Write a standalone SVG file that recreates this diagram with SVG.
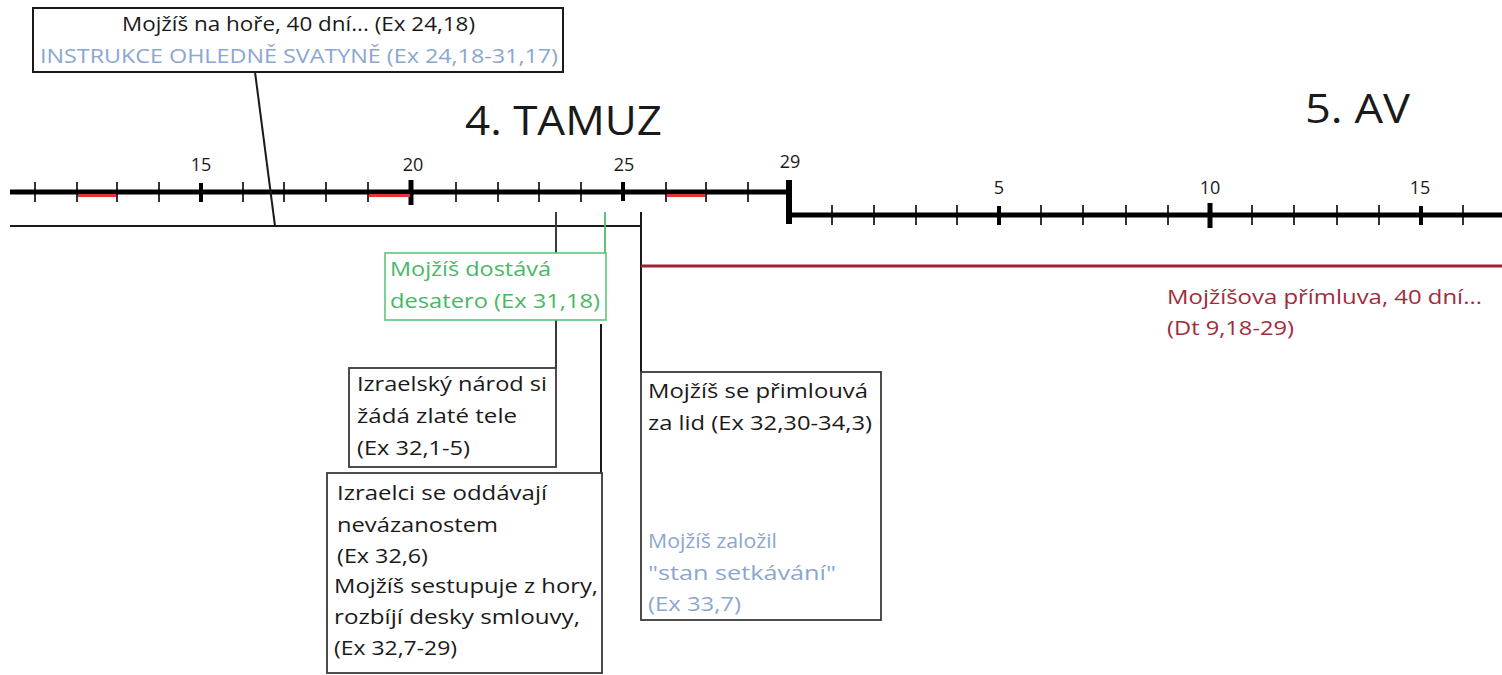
<svg xmlns="http://www.w3.org/2000/svg" width="1502" height="675" viewBox="0 0 1502 675">
<style>
text{font-family:"Open Sans",Lato,"Liberation Sans",sans-serif;font-size:20px;fill:#1a1a1a}
.blue{fill:#8aa7d1}
.green{fill:#47b865}
.red{fill:#a02c3c}
.num{font-size:18px;text-anchor:middle}
.title{font-size:41px}
.box{fill:#fff;stroke:#3a3a3a;stroke-width:1.8}
.axis{stroke:#000;stroke-width:5;fill:none}
.tick{stroke:#000;stroke-width:1.6}
.maj{stroke:#000;stroke-width:4}
.thin{stroke:#1a1a1a;stroke-width:2;fill:none}
</style>
<rect width="1502" height="675" fill="#fff"/>
<g id="connectors">
<line class="axis" x1="10" y1="192" x2="790" y2="192"/>
<g class="tick">
<line x1="35" y1="182" x2="35" y2="202"/><line x1="77" y1="182" x2="77" y2="202"/><line x1="117" y1="182" x2="117" y2="202"/><line x1="159" y1="182" x2="159" y2="202"/>
<line x1="243" y1="182" x2="243" y2="202"/><line x1="284" y1="182" x2="284" y2="202"/><line x1="326" y1="182" x2="326" y2="202"/><line x1="368" y1="182" x2="368" y2="202"/>
<line x1="456" y1="182" x2="456" y2="202"/><line x1="498" y1="182" x2="498" y2="202"/><line x1="539" y1="182" x2="539" y2="202"/><line x1="581" y1="182" x2="581" y2="202"/>
<line x1="666" y1="182" x2="666" y2="202"/><line x1="706" y1="182" x2="706" y2="202"/><line x1="748" y1="182" x2="748" y2="202"/>
</g>
<line class="maj" x1="201" y1="183" x2="201" y2="202"/>
<line class="maj" x1="411" y1="180" x2="411" y2="205" style="stroke-width:5"/>
<line class="maj" x1="623" y1="182" x2="623" y2="201"/>
<g fill="#e8323c">
<rect x="78" y="194" width="38" height="3"/><rect x="369" y="194" width="41" height="3"/><rect x="667" y="194" width="38" height="3"/>
</g>
<line x1="789" y1="180" x2="789" y2="224" stroke="#000" stroke-width="6"/>
<line class="axis" x1="789" y1="215" x2="1502" y2="215"/>
<g class="tick">
<line x1="832" y1="205" x2="832" y2="225"/><line x1="874" y1="205" x2="874" y2="225"/><line x1="916" y1="205" x2="916" y2="225"/><line x1="957" y1="205" x2="957" y2="225"/>
<line x1="1041" y1="205" x2="1041" y2="225"/><line x1="1083" y1="205" x2="1083" y2="225"/><line x1="1126" y1="205" x2="1126" y2="225"/><line x1="1168" y1="205" x2="1168" y2="225"/>
<line x1="1252" y1="205" x2="1252" y2="225"/><line x1="1294" y1="205" x2="1294" y2="225"/><line x1="1337" y1="205" x2="1337" y2="225"/><line x1="1379" y1="205" x2="1379" y2="225"/>
<line x1="1463" y1="205" x2="1463" y2="225"/>
</g>
<line class="maj" x1="999" y1="206" x2="999" y2="225"/>
<line class="maj" x1="1210" y1="203" x2="1210" y2="228" style="stroke-width:5"/>
<line class="maj" x1="1421" y1="206" x2="1421" y2="225"/>
<line class="thin" x1="10" y1="226" x2="641" y2="226"/>
<line class="thin" x1="255" y1="72" x2="275" y2="226"/>
<line x1="556" y1="212" x2="556" y2="368" stroke="#3a3a3a" stroke-width="2"/>
<line x1="605" y1="212" x2="605" y2="253" stroke="#47c06a" stroke-width="1.8"/>
<line x1="601" y1="324" x2="601" y2="473" stroke="#1a1a1a" stroke-width="2"/>
<line x1="641" y1="212" x2="641" y2="372" stroke="#1a1a1a" stroke-width="2"/>
<line x1="641" y1="266" x2="1502" y2="266" stroke="#9b2335" stroke-width="3"/>
</g>
<g id="title-tamuz"><text class="title" x="465" y="135" textLength="197" lengthAdjust="spacingAndGlyphs">4. TAMUZ</text></g>
<g id="title-av"><text class="title" x="1305" y="123" textLength="105" lengthAdjust="spacingAndGlyphs">5. AV</text></g>
<g id="labels">
<text class="num" x="201" y="171">15</text>
<text class="num" x="413" y="171">20</text>
<text class="num" x="624" y="171">25</text>
<text class="num" x="790" y="168">29</text>
<text class="num" x="999" y="194">5</text>
<text class="num" x="1210" y="194">10</text>
<text class="num" x="1420" y="194">15</text>
</g>
<g id="node-top">
<rect x="33" y="8" width="530" height="64" fill="#fff" stroke="#1a1a1a" stroke-width="2"/>
<text x="122" y="31" textLength="353" lengthAdjust="spacingAndGlyphs">Mojžíš na hoře, 40 dní... (Ex 24,18)</text>
<text class="blue" x="40" y="63" textLength="518" lengthAdjust="spacingAndGlyphs">INSTRUKCE OHLEDNĚ SVATYNĚ (Ex 24,18-31,17)</text>
</g>
<g id="node-desatero">
<rect x="385" y="253" width="221" height="67" fill="#fff" stroke="#5cc67c" stroke-width="1.6"/>
<text class="green" x="390" y="276" textLength="161" lengthAdjust="spacingAndGlyphs">Mojžíš dostává</text>
<text class="green" x="390" y="308" textLength="210" lengthAdjust="spacingAndGlyphs">desatero (Ex 31,18)</text>
</g>
<g id="node-tele">
<rect class="box" x="349" y="368" width="207" height="99"/>
<text x="357" y="391" textLength="190" lengthAdjust="spacingAndGlyphs">Izraelský národ si</text>
<text x="357" y="423" textLength="160" lengthAdjust="spacingAndGlyphs">žádá zlaté tele</text>
<text x="357" y="455" textLength="113" lengthAdjust="spacingAndGlyphs">(Ex 32,1-5)</text>
</g>
<g id="node-nevazanost">
<rect class="box" x="327" y="473" width="275" height="200"/>
<text x="337" y="500" textLength="210" lengthAdjust="spacingAndGlyphs">Izraelci se oddávají</text>
<text x="337" y="532" textLength="161" lengthAdjust="spacingAndGlyphs">nevázanostem</text>
<text x="337" y="563" textLength="91" lengthAdjust="spacingAndGlyphs">(Ex 32,6)</text>
<text x="334" y="593" textLength="264" lengthAdjust="spacingAndGlyphs">Mojžíš sestupuje z hory,</text>
<text x="334" y="624" textLength="246" lengthAdjust="spacingAndGlyphs">rozbíjí desky smlouvy,</text>
<text x="334" y="655" textLength="123" lengthAdjust="spacingAndGlyphs">(Ex 32,7-29)</text>
</g>
<g id="node-primluva">
<rect class="box" x="641" y="372" width="240" height="248"/>
<text x="648" y="398" textLength="220" lengthAdjust="spacingAndGlyphs">Mojžíš se přimlouvá</text>
<text x="648" y="430" textLength="224" lengthAdjust="spacingAndGlyphs">za lid (Ex 32,30-34,3)</text>
<text class="blue" x="648" y="548" textLength="129" lengthAdjust="spacingAndGlyphs">Mojžíš založil</text>
<text class="blue" x="648" y="580" textLength="188" lengthAdjust="spacingAndGlyphs">"stan setkávání"</text>
<text class="blue" x="648" y="611" textLength="93" lengthAdjust="spacingAndGlyphs">(Ex 33,7)</text>
</g>
<g id="node-40dni">
<text class="red" x="1167" y="304" textLength="315" lengthAdjust="spacingAndGlyphs">Mojžíšova přímluva, 40 dní...</text>
<text class="red" x="1167" y="335" textLength="127" lengthAdjust="spacingAndGlyphs">(Dt 9,18-29)</text>
</g>
</svg>
